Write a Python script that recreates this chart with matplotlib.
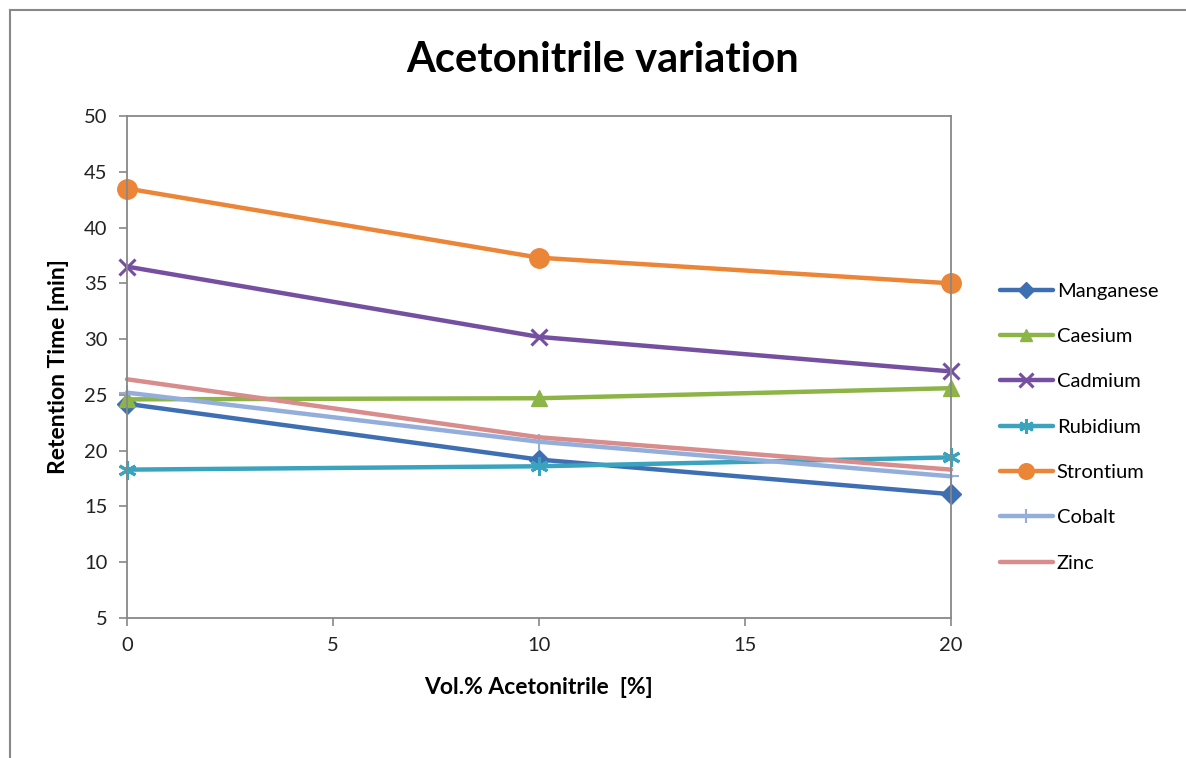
import matplotlib
matplotlib.use("Agg")
import matplotlib.pyplot as plt
from matplotlib.lines import Line2D

plt.rcParams['font.family'] = ['Lato', 'DejaVu Sans']

x_vals = [0, 10, 20]
series_names = ["Manganese", "Caesium", "Cadmium", "Rubidium", "Strontium", "Cobalt", "Zinc"]
manganese = [24.2, 19.2, 16.1]
caesium = [24.6, 24.7, 25.6]
cadmium = [36.5, 30.2, 27.1]
rubidium = [18.3, 18.6, 19.4]
strontium = [43.5, 37.3, 35.0]
cobalt = [25.2, 20.8, 17.7]
zinc = [26.4, 21.2, 18.3]
x_ticks = [0, 5, 10, 15, 20]
y_ticks = [5, 10, 15, 20, 25, 30, 35, 40, 45, 50]

values = [manganese, caesium, cadmium, rubidium, strontium, cobalt, zinc]
colors = ["#3F6FB3", "#8DB446", "#7650A0", "#3AA3BE", "#EB8537", "#93AEDB", "#D88C8C"]
markers = ["D", "^", "x", (6, 2, 0), "o", "+", None]
msizes = [10, 11, 12, 13, 14, 12, 0]
mews = [1, 1, 2.2, 2.2, 1, 1.5, 1]

fig = plt.figure(figsize=(11.86, 7.58), dpi=100)
ax = fig.add_axes([127/1186, 1-618/758, (951-127)/1186, (618-116)/758])

for name, v, c, m, ms, mew in zip(series_names, values, colors, markers, msizes, mews):
    ax.plot(x_vals, v, color=c, lw=3.2, marker=m, markersize=ms, markeredgewidth=mew,
            markeredgecolor=c, markerfacecolor=c, label=name, clip_on=False, solid_capstyle='round')

ax.set_xlim(0, 20)
ax.set_ylim(5, 50)
ax.set_xticks(x_ticks)
ax.set_yticks(y_ticks)
for s in ax.spines.values():
    s.set_color("#888888")
    s.set_linewidth(1.3)
ax.tick_params(axis='both', direction='out', length=6, width=1.2, color="#888888",
               labelsize=14.5, labelcolor="#222222", pad=8)

ax.set_xlabel("Vol.% Acetonitrile  [%]", fontsize=16.5, fontweight='bold', labelpad=16)
ax.set_ylabel("Retention Time [min]", fontsize=16.5, fontweight='bold', labelpad=11)

fig.text(603/1186, 1-60/758, "Acetonitrile variation", fontsize=30, fontweight='bold',
         ha='center', va='center')

leg = ax.legend(loc='center left', bbox_to_anchor=(1.05, 0.38), frameon=False,
                fontsize=14.5, handlelength=2.6, labelspacing=1.4, handletextpad=0.2,
                borderaxespad=0, markerscale=0.8)

# outer frame (left and top edges visible)
fig.add_artist(Line2D([10/1186, 10/1186], [0, 1-10/758], color="#888888", lw=1.5,
                      transform=fig.transFigure))
fig.add_artist(Line2D([10/1186, 1], [1-10/758, 1-10/758], color="#888888", lw=1.5,
                      transform=fig.transFigure))

fig.savefig("out.png", dpi=100)
